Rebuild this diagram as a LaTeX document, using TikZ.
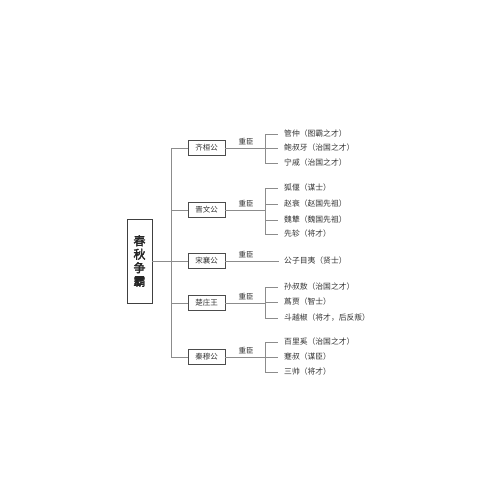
\documentclass[tikz,border=0pt]{standalone}
\usepackage{fontspec}
\setmainfont{Noto Sans CJK SC}
\newfontfamily\cjkbold[FakeBold=2.5]{Noto Sans CJK SC}
\begin{document}
\begin{tikzpicture}[x=1pt,y=-1pt,
  conn/.style={draw=black!45, line width=0.6pt},
  mainbox/.style={draw=black!75, line width=0.9pt, minimum width=25pt, minimum height=84pt, inner sep=0pt, align=center, font=\cjkbold\fontsize{12}{13.5}\selectfont, text=black!85},
  kingbox/.style={draw=black!70, line width=0.8pt, minimum width=37pt, minimum height=15pt, inner sep=0pt, font=\fontsize{7.5}{8}\selectfont, text=black!80},
  lbl/.style={inner sep=0pt, font=\fontsize{7.5}{8}\selectfont, text=black!80},
  item/.style={anchor=west, inner sep=0pt, font=\fontsize{7.8}{8}\selectfont, text=black!80}]
\useasboundingbox (0,0) rectangle (500,500);
\fill[white] (0,0) rectangle (500,500);

% main
\node[mainbox] (m) at (139.5,261) {春\\秋\\争\\霸};
\coordinate (t0) at (171,261);
\coordinate (ttop) at (171,148);
\coordinate (tbot) at (171,357);
\draw[conn] (m.east) -- (t0);
\draw[conn] (ttop) -- (tbot);

% kings
\node[kingbox] (k1) at (206.5,148) {齐桓公};
\node[kingbox] (k2) at (206.5,210) {晋文公};
\node[kingbox] (k3) at (206.5,261) {宋襄公};
\node[kingbox] (k4) at (206.5,303) {楚庄王};
\node[kingbox] (k5) at (206.5,357) {秦穆公};
\foreach \k/\y in {k1/148,k2/210,k3/261,k4/303,k5/357}{
  \coordinate (\k t) at (171,\y);
  \draw[conn] (\k t) -- (\k.west);
  \node[lbl] at (246,\y-6) {重臣};
}

% brackets
\coordinate (b1) at (265,148);
\coordinate (b2) at (265,210);
\coordinate (b3) at (279,261);
\coordinate (b4) at (265,303);
\coordinate (b5) at (265,357);
\foreach \k in {1,...,5}{ \draw[conn] (k\k.east) -- (b\k); }

% children
\node[item] (c11) at (284,134) {管仲（图霸之才）};
\node[item] (c12) at (284,148) {鲍叔牙（治国之才）};
\node[item] (c13) at (284,163) {宁戚（治国之才）};
\node[item] (c21) at (284,188) {狐偃（谋士）};
\node[item] (c22) at (284,204) {赵衰（赵国先祖）};
\node[item] (c23) at (284,220) {魏犨（魏国先祖）};
\node[item] (c24) at (284,234) {先轸（将才）};
\node[item] (c31) at (284,261) {公子目夷（贤士）};
\node[item] (c41) at (284,287) {孙叔敖（治国之才）};
\node[item] (c42) at (284,302) {蔿贾（智士）};
\node[item] (c43) at (284,318) {斗越椒（将才，后反叛）};
\node[item] (c51) at (284,342) {百里奚（治国之才）};
\node[item] (c52) at (284,357) {蹇叔（谋臣）};
\node[item] (c53) at (284,372) {三帅（将才）};

\draw[conn] (c11.west -| b1) ++(0,0) coordinate (x) -- (c13.west -| b1);
\foreach \c in {c11,c12,c13}{ \draw[conn] (\c.west -| b1) -- ([xshift=-6pt]\c.west); }
\draw[conn] (c21.west -| b2) -- (c24.west -| b2);
\foreach \c in {c21,c22,c23,c24}{ \draw[conn] (\c.west -| b2) -- ([xshift=-6pt]\c.west); }
\draw[conn] (b3) -- ([xshift=-5pt]c31.west);
\draw[conn] (c41.west -| b4) -- (c43.west -| b4);
\foreach \c in {c41,c42,c43}{ \draw[conn] (\c.west -| b4) -- ([xshift=-6pt]\c.west); }
\draw[conn] (c51.west -| b5) -- (c53.west -| b5);
\foreach \c in {c51,c52,c53}{ \draw[conn] (\c.west -| b5) -- ([xshift=-6pt]\c.west); }
\end{tikzpicture}
\end{document}
